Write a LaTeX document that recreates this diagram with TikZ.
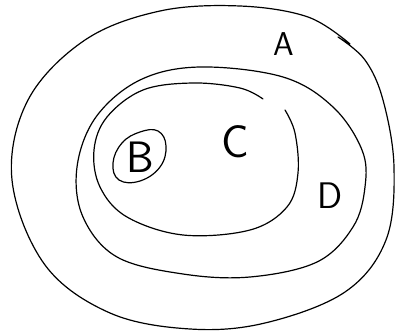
\documentclass[tikz,border=0pt]{standalone}
\usepackage{tikz}

\tikzset{
  region/.style={line width=1.2pt, line join=round, line cap=round},
  setname/.style={font=\sffamily\fontsize{#1}{#1}\selectfont, inner sep=0pt}
}

\begin{document}
\begin{tikzpicture}[x=1pt, y=-1pt]
    \useasboundingbox (0,0) rectangle (397,334);

    % Outer set A
    \draw[region] plot[smooth, tension=0.6] coordinates {
      (338,37) (365,60) (383,100) (394,167) (386,240) (345,292) (265,323)
      (190,329) (110,313) (45,265) (12,180) (28,100) (85,40) (160,11)
      (240,6) (308,17) (350,44)};

    % Set D
    \draw[region] plot[smooth cycle, tension=0.6] coordinates {
      (200,67) (283,77) (333,107) (362,150) (365,187) (353,227) (317,262)
      (250,277) (183,274) (117,257) (83,217) (77,167) (96,117) (140,80)};

    % Set C
    \draw[region] plot[smooth, tension=0.6] coordinates {
      (263,99) (240,88) (193,83) (143,90) (107,117) (94,150) (100,187)
      (127,217) (183,235) (250,230) (287,207) (298,173) (295,133) (285,110)};

    % Set B
    \draw[region] plot[smooth cycle, tension=0.7] coordinates {
      (158,131) (166,146) (160,167) (140,181) (119,180) (113,163)
      (122,143) (140,132)};

    % Labels
    \node[setname=33] (A) at (284,44) {A};
    \node[setname=46] (C) at (235,142) {C};
    \node[setname=37] (D) at (330,196) {D};
    \node[setname=44] (B) at (140,157) {B};
\end{tikzpicture}
\end{document}
